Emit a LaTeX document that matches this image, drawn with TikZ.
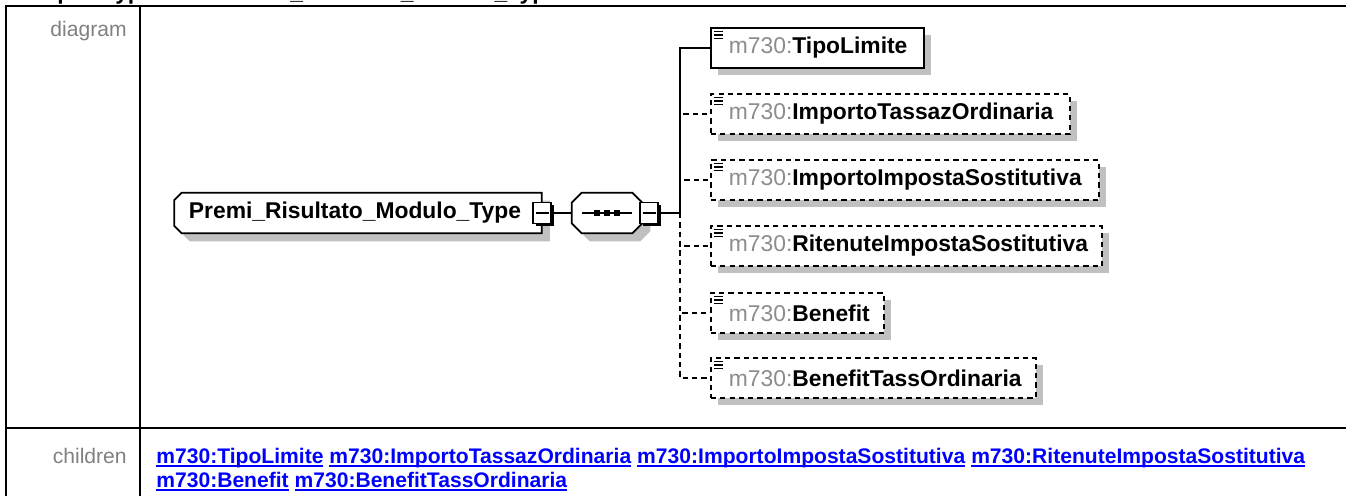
\documentclass[tikz,border=0pt]{standalone}
\usepackage{fontspec}
\setmainfont{Liberation Sans}
\usetikzlibrary{positioning, shadows}

\pgfdeclarelayer{background}
\pgfsetlayers{background,main}

\definecolor{prefixgray}{HTML}{8C8C8C}
\definecolor{labelgray}{HTML}{808080}
\definecolor{shadowgray}{HTML}{C0C0C0}
\definecolor{linkblue}{HTML}{0000FF}

\newcommand{\childname}[1]{\hspace*{0.36cm}{\color{prefixgray}m730:}\textbf{#1}}
\newcommand{\childlink}[1]{\setbox0\hbox{\textbf{m730:#1}}\rlap{\rule[-2.2pt]{\wd0}{1.1pt}}\box0\relax}

\tikzset{
  tableline/.style={line width=1.1pt},
  celllabel/.style={inner sep=0pt, text=labelgray, font=\fontsize{12}{14}\selectfont},
  linktext/.style={inner sep=0pt, text=linkblue, font=\fontsize{12}{14}\selectfont},
  elembox/.style={draw, line width=1pt, fill=white, rectangle, anchor=west,
    minimum height=0.8cm, inner xsep=0pt, align=left,
    font=\fontsize{13}{15}\selectfont,
    general shadow={fill=shadowgray, shadow xshift=0.14cm, shadow yshift=-0.14cm},
    path picture={
      \draw[solid, line width=0.8pt]
        ([xshift=0.06cm,yshift=-0.07cm]path picture bounding box.north west) -- +(0.18cm,0)
        ([xshift=0.06cm,yshift=-0.14cm]path picture bounding box.north west) -- +(0.18cm,0)
        ([xshift=0.06cm,yshift=-0.21cm]path picture bounding box.north west) -- +(0.18cm,0);
    }},
  optbox/.style={elembox, dash pattern=on 3pt off 2.3pt},
  typebox/.style={rectangle, minimum width=7.34cm, minimum height=0.8cm, inner sep=0pt,
    font=\fontsize{13}{15}\selectfont\bfseries},
  seqbox/.style={rectangle, minimum width=1.4cm, minimum height=0.8cm, inner sep=0pt},
  outline/.style={line width=1pt, fill=white},
  shadowfill/.style={fill=shadowgray, transform canvas={xshift=0.16cm, yshift=-0.16cm}},
  minusbox/.style={draw, line width=0.7pt, fill=white, minimum width=0.36cm,
    minimum height=0.42cm, inner sep=0pt,
    general shadow={fill=black, shadow xshift=0.05cm, shadow yshift=-0.05cm},
    path picture={
      \draw[line width=0.7pt] ([xshift=0.05cm]path picture bounding box.west)
        -- ([xshift=-0.05cm]path picture bounding box.east);
    }},
  optline/.style={line width=1pt, dash pattern=on 3pt off 2.3pt}
}

\begin{document}
\begin{tikzpicture}[x=0.02cm, y=-0.02cm]
\useasboundingbox (0,0) rectangle (1346,495);

% table frame
\node[font=\fontsize{13}{15}\selectfont\bfseries, anchor=base west, inner sep=0pt] (title) at (10,-1) {complexType m730:Premi\_Risultato\_Modulo\_Type};
\draw[tableline] (6,520) -- (6,6) -- (1380,6);
\draw[tableline] (140,6) -- (140,520);
\draw[tableline] (6,428) -- (1380,428);

\node[celllabel, anchor=base east] (diaglabel) at (127,36) {diagram};
\node[celllabel, anchor=base east] (childlabel) at (127,463) {children};

% diagram
\node[typebox] (ptype) at (358,213) {\hspace*{-0.12cm}Premi\_Risultato\_Modulo\_Type};
\node[seqbox] (seq) at (607,213) {};
\node[minusbox] (typeminus) at (542,213) {};
\node[minusbox] (seqminus) at (649,213) {};
\coordinate (trunk) at (680,213);

\begin{pgfonlayer}{background}
\path[shadowfill] ([xshift=0.15cm]ptype.north west) -- (ptype.north east) -- (ptype.south east)
  -- ([xshift=0.15cm]ptype.south west) -- ([yshift=0.15cm]ptype.south west)
  -- ([yshift=-0.15cm]ptype.north west) -- cycle;
\draw[outline] ([xshift=0.15cm]ptype.north west) -- (ptype.north east) -- (ptype.south east)
  -- ([xshift=0.15cm]ptype.south west) -- ([yshift=0.15cm]ptype.south west)
  -- ([yshift=-0.15cm]ptype.north west) -- cycle;
\path[shadowfill] ([xshift=0.2cm]seq.north west) -- ([xshift=-0.2cm]seq.north east)
  -- ([yshift=-0.2cm]seq.north east) -- ([yshift=0.2cm]seq.south east)
  -- ([xshift=-0.2cm]seq.south east) -- ([xshift=0.2cm]seq.south west)
  -- ([yshift=0.2cm]seq.south west) -- ([yshift=-0.2cm]seq.north west) -- cycle;
\draw[outline] ([xshift=0.2cm]seq.north west) -- ([xshift=-0.2cm]seq.north east)
  -- ([yshift=-0.2cm]seq.north east) -- ([yshift=0.2cm]seq.south east)
  -- ([xshift=-0.2cm]seq.south east) -- ([xshift=0.2cm]seq.south west)
  -- ([yshift=0.2cm]seq.south west) -- ([yshift=-0.2cm]seq.north west) -- cycle;
\end{pgfonlayer}

% sequence sign
\draw[line width=0.9pt] ([xshift=-0.5cm]seq.center) -- ([xshift=0.5cm]seq.center);
\foreach \dx in {-0.2,0,0.2}
  \fill[black] ([xshift=\dx cm]seq.center) +(-0.065cm,-0.065cm) rectangle +(0.065cm,0.065cm);

\node[elembox, text width=4.26cm] (tipo) at (710,48) {\childname{TipoLimite}};
\node[optbox, text width=7.18cm] (imptass) at (710,114) {\childname{ImportoTassazOrdinaria}};
\node[optbox, text width=7.76cm] (impimp) at (710,180) {\childname{ImportoImpostaSostitutiva}};
\node[optbox, text width=7.82cm] (ritimp) at (710,246) {\childname{RitenuteImpostaSostitutiva}};
\node[optbox, text width=3.46cm] (benefit) at (710,313) {\childname{Benefit}};
\node[optbox, text width=6.5cm] (bentass) at (710,378) {\childname{BenefitTassOrdinaria}};

\draw[line width=1pt] (typeminus.east) -- (seq.west);
\draw[line width=1pt] (seqminus.east) -- (trunk);
\draw[line width=1pt] (trunk) |- (tipo.west);
\foreach \c in {imptass, impimp, ritimp, benefit, bentass}
  \draw[optline] (trunk) |- (\c.west);

% children links
\node[linktext, anchor=base west] (linksone) at (156,463) {\childlink{TipoLimite} \childlink{ImportoTassazOrdinaria} \childlink{ImportoImpostaSostitutiva} \childlink{RitenuteImpostaSostitutiva}};
\node[linktext, anchor=base west] (linkstwo) at (156,487) {\childlink{Benefit} \childlink{BenefitTassOrdinaria}};
\end{tikzpicture}
\end{document}
